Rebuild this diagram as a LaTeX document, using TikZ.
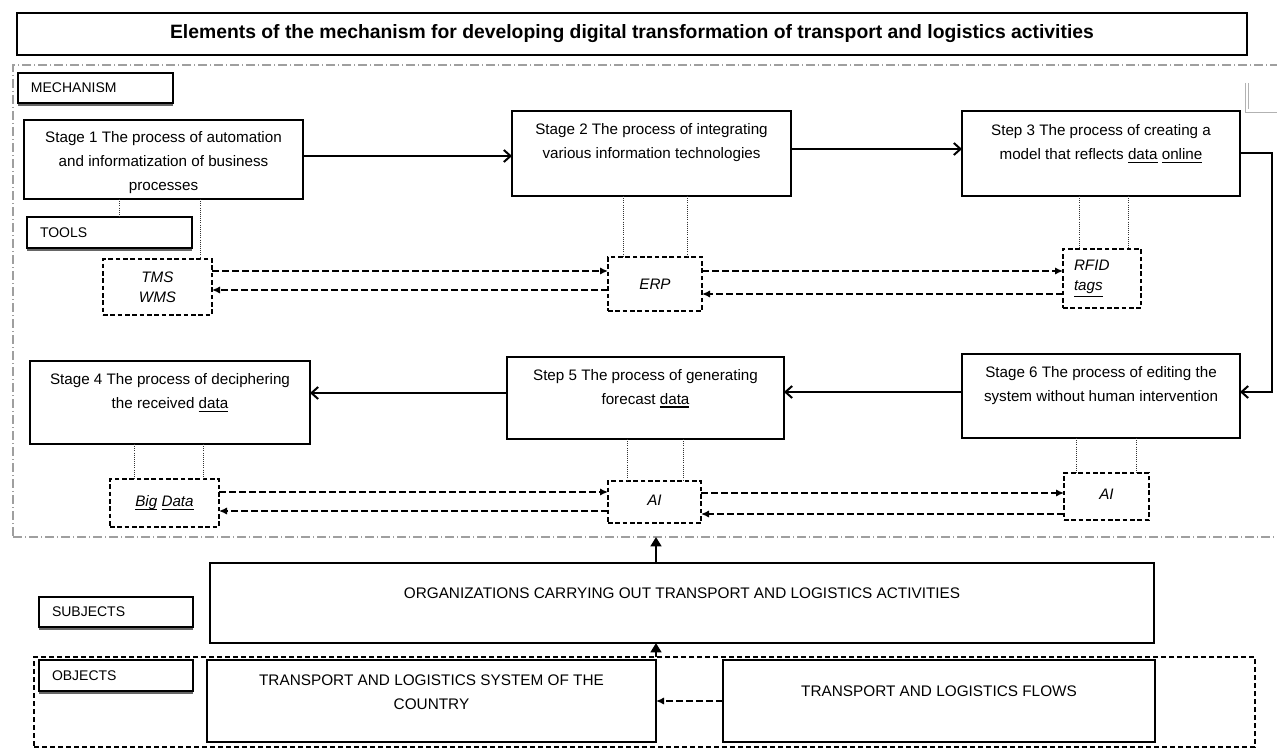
\documentclass[tikz,border=0pt]{standalone}
\usepackage{fontspec}
\setmainfont{Liberation Sans}
\usetikzlibrary{arrows.meta,calc,shadows}
\newcommand\thul[2][1.3pt]{\leavevmode\setbox0=\hbox{#2}\rlap{\rule[-2.6pt]{\wd0}{#1}}\box0\relax}
\begin{document}
\begin{tikzpicture}[x=0.75pt,y=-0.75pt,
  stagebox/.style={draw, line width=0.9pt, fill=white, inner sep=0pt, outer sep=0pt},
  stagetxt/.style={anchor=north, align=center, inner sep=0pt, font=\fontsize{11.4}{18}\selectfont},
  toolbox/.style={draw, dash pattern=on 3.5pt off 2pt, line width=0.8pt, fill=white, inner sep=0pt, outer sep=0pt, align=center, font=\itshape\fontsize{11.4}{15}\selectfont},
  labelbox/.style={draw, line width=0.9pt, fill=white, inner ysep=0pt, inner xsep=9.75pt, outer sep=0pt, align=left, font=\fontsize{10.5}{12}\selectfont, drop shadow={shadow xshift=0pt, shadow yshift=-2.2pt, fill=black!75, opacity=0.8}},
  flowarrow/.style={line width=1.5pt, -{Straight Barb[length=5pt,width=9pt]}},
  tieline/.style={densely dotted, line width=0.6pt, black!80},
  dasharrow/.style={line width=1.2pt, dash pattern=on 5pt off 2.5pt, -{Latex[length=6pt,width=5.5pt]}},
  uparrow/.style={line width=2pt, -{Triangle[length=7pt,width=8pt]}},
]
\useasboundingbox (0,0) rectangle (1277,749);

% frames
\node[draw=gray!75, dash pattern=on 7pt off 2pt on 1pt off 2pt, line width=0.9pt, minimum width=957.75pt, minimum height=354pt, inner sep=0pt, outer sep=0pt] (mech) at (651.5,301) {};
\node[draw, dash pattern=on 4pt off 2pt, line width=0.8pt, minimum width=915.75pt, minimum height=67.5pt, inner sep=0pt, outer sep=0pt] (objf) at (644.5,702) {};
\draw[gray!60, line width=0.5pt] (1245,83) -- (1245,112) -- (1277,112);
\draw[gray!60, line width=0.5pt] (1248,83) -- (1248,109);

% title
\node[draw, line width=0.9pt, inner sep=0pt, minimum width=922.5pt, minimum height=31.5pt, font=\bfseries\fontsize{14.5}{17}\selectfont] (title) at (632,34) {Elements of the mechanism for developing digital transformation of transport and logistics activities};

% labels
\node[labelbox, text width=96.75pt, minimum height=22.5pt] (mechl) at (95.5,88) {MECHANISM};

% stages
\node[stagebox, minimum width=209.25pt, minimum height=59.25pt] (s1) at (163.5,159.5) {};
\node[stagetxt] (s1t) at ($(s1.north)+(0,11.5)$) {Stage 1 The process of automation\\and informatization of business\\processes};
\node[stagebox, minimum width=209.25pt, minimum height=63.75pt] (s2) at (651.5,153.5) {};
\node[stagetxt] (s2t) at ($(s2.north)+(0,12.5)$) {Stage 2 The process of integrating\\various information technologies};
\node[stagebox, minimum width=208.5pt, minimum height=63.75pt] (s3) at (1101,153.5) {};
\node[stagetxt] (s3t) at ($(s3.north)+(0,13.5)$) {Step 3 The process of creating a\\model that reflects \thul{data} \thul{online}};
\node[stagebox, minimum width=210pt, minimum height=62.25pt] (s4) at (170,402.5) {};
\node[stagetxt] (s4t) at ($(s4.north)+(0,12.5)$) {Stage 4 The process of deciphering\\the received \thul{data}};
\node[stagebox, minimum width=207.75pt, minimum height=61.5pt] (s5) at (645.5,398) {};
\node[stagetxt] (s5t) at ($(s5.north)+(0,12)$) {Step 5 The process of generating\\forecast \thul{data}};
\node[stagebox, minimum width=208.5pt, minimum height=63pt] (s6) at (1101,396) {};
\node[stagetxt] (s6t) at ($(s6.north)+(0,12.5)$) {Stage 6 The process of editing the\\system without human intervention};

% tools label
\node[labelbox, text width=104.25pt, minimum height=23.25pt] (toolsl) at (109.5,232.5) {TOOLS};

% tools
\node[toolbox, minimum width=81.75pt, minimum height=42pt] (tms) at (157.5,287) {TMS\\WMS};
\node[toolbox, minimum width=70.5pt, minimum height=40.5pt] (erp) at (655,284) {ERP};
\node[toolbox, minimum width=58.5pt, minimum height=44.25pt, inner xsep=8.25pt, text width=42pt, align=left] (rfid) at (1102,278.5) {RFID\\\underline{tags}};
\node[toolbox, minimum width=81.75pt, minimum height=36pt] (bigd) at (164.5,503) {\raisebox{3pt}{\thul[1pt]{Big} \thul[1pt]{Data}}};
\node[toolbox, minimum width=69.75pt, minimum height=31.5pt] (aim) at (654.5,502) {\raisebox{3pt}{AI}};
\node[toolbox, minimum width=63.75pt, minimum height=35.25pt] (air) at (1106.5,496.5) {\raisebox{3pt}{AI}};

% stage flow
\draw[flowarrow] (s1.east |- 0,156) -- (s2.west |- 0,156);
\draw[flowarrow] (s2.east |- 0,149) -- (s3.west |- 0,149);
\draw[flowarrow] (s3.east |- 0,153) -- (1272,153) -- (1272,392) -- (s6.east |- 0,392);
\draw[flowarrow] (s6.west |- 0,392) -- (s5.east |- 0,392);
\draw[flowarrow] (s5.west |- 0,393) -- (s4.east |- 0,393);

% ties
\draw[tieline] (s1.south -| 119,0) -- (toolsl.north -| 119,0);
\draw[tieline] (s1.south -| 200,0) -- (tms.north -| 200,0);
\draw[tieline] (s2.south -| 623,0) -- (erp.north -| 623,0);
\draw[tieline] (s2.south -| 687,0) -- (erp.north -| 687,0);
\draw[tieline] (s3.south -| 1079,0) -- (rfid.north -| 1079,0);
\draw[tieline] (s3.south -| 1128,0) -- (rfid.north -| 1128,0);
\draw[tieline] (s4.south -| 134,0) -- (bigd.north -| 134,0);
\draw[tieline] (s4.south -| 203,0) -- (bigd.north -| 203,0);
\draw[tieline] (s5.south -| 627,0) -- (aim.north -| 627,0);
\draw[tieline] (s5.south -| 683,0) -- (aim.north -| 683,0);
\draw[tieline] (s6.south -| 1076,0) -- (air.north -| 1076,0);
\draw[tieline] (s6.south -| 1136,0) -- (air.north -| 1136,0);

% tool arrows
\draw[dasharrow] (tms.east |- 0,271) -- (erp.west |- 0,271);
\draw[dasharrow] (erp.west |- 0,290) -- (tms.east |- 0,290);
\draw[dasharrow] (erp.east |- 0,271) -- (rfid.west |- 0,271);
\draw[dasharrow] (rfid.west |- 0,294) -- (erp.east |- 0,294);
\draw[dasharrow] (bigd.east |- 0,492) -- (aim.west |- 0,492);
\draw[dasharrow] (aim.west |- 0,511) -- (bigd.east |- 0,511);
\draw[dasharrow] (aim.east |- 0,493) -- (air.west |- 0,493);
\draw[dasharrow] (air.west |- 0,514) -- (aim.east |- 0,514);

% subjects / objects
\node[labelbox, text width=96pt, minimum height=22.5pt] (subl) at (116,612) {SUBJECTS};
\node[labelbox, text width=96pt, minimum height=23.25pt] (objl) at (116,675.5) {OBJECTS};
\node[stagebox, minimum width=708pt, minimum height=60pt] (org) at (682,603) {};
\node[stagetxt, font=\fontsize{11.5}{18}\selectfont] (orgt) at ($(org.north)+(0,25)$) {ORGANIZATIONS CARRYING OUT TRANSPORT AND LOGISTICS ACTIVITIES};
\node[stagebox, minimum width=336.75pt, minimum height=61.5pt] (sys) at (431.5,701) {};
\node[stagetxt, font=\fontsize{11.5}{18}\selectfont] (syst) at ($(sys.north)+(0,15)$) {TRANSPORT AND LOGISTICS SYSTEM OF THE\\COUNTRY};
\node[stagebox, minimum width=324pt, minimum height=61.5pt] (flows) at (939,701) {};
\node[stagetxt, font=\fontsize{11.5}{18}\selectfont] (flowst) at ($(flows.north)+(0,26)$) {TRANSPORT AND LOGISTICS FLOWS};

\draw[uparrow] (org.north -| 656,0) -- (mech.south -| 656,0);
\draw[uparrow] (objf.north -| 656,0) -- (org.south -| 656,0);
\draw[dasharrow] (flows.west) -- (sys.east);
\end{tikzpicture}
\end{document}
